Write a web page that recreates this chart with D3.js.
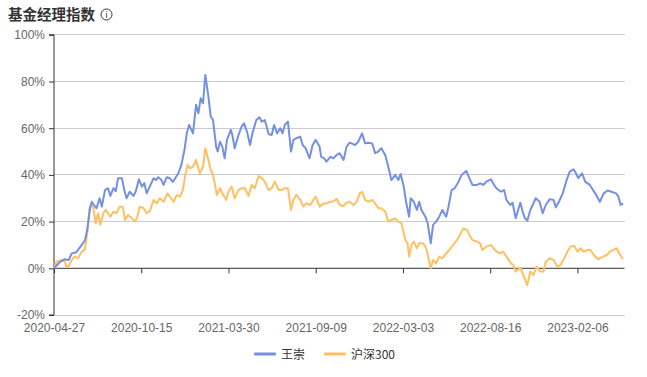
<!DOCTYPE html>
<html><head><meta charset="utf-8">
<script src="https://cdn.jsdelivr.net/npm/d3@7"></script>
<style>
html,body{margin:0;padding:0;background:#fff;}
svg{display:block;font-family:"Noto Sans CJK SC","Noto Sans",sans-serif;}
</style></head>
<body><svg id="c" width="647" height="377"></svg>
<script>
const title = "基金经理指数";
const seriesNames = ["王崇", "沪深300"];
const seriesColors = ["#7390e3", "#ffc063"];
const yTicks = [-20, 0, 20, 40, 60, 80, 100];
const xTickLabels = ["2020-04-27","2020-10-15","2021-03-30","2021-09-09","2022-03-03","2022-08-16","2023-02-06"];
const xTickDays = [0, 113, 226, 339, 452, 565, 678];
const lastDay = 737;

// 王崇 (trading-day index, % return)
const wangDays = [0,8,14,19,23,29,36,40,43,47,49,52,55,59,62,66,70,73,77,80,83,88,91,94,98,103,106,110,114,117,120,124,129,132,135,139,142,146,150,154,157,161,165,169,172,175,180,184,187,190,193,196,200,203,206,210,212,215,218,221,224,229,231,234,239,243,246,250,254,257,262,266,269,273,278,282,285,289,293,296,299,303,307,310,314,319,322,326,331,335,339,344,346,350,353,358,362,366,370,375,379,383,390,394,399,403,407,412,416,420,424,429,433,437,442,446,449,453,456,460,462,466,470,473,476,481,484,488,491,495,499,503,508,511,515,519,524,528,534,538,542,548,552,556,560,566,570,573,579,583,586,591,594,598,604,607,610,613,617,620,624,629,633,637,642,647,650,654,659,664,668,673,676,679,684,688,694,701,707,712,717,722,728,731,734,737];
const wangVals = [0,2.8,3.9,3.5,6.4,6.9,10,12,16.4,26.4,28.5,27,25.7,30,26.4,33.5,34.3,31,34.3,33,38.6,38.6,33.5,30,32.8,31,33,38.1,35,36.5,32.1,35,38.6,37.8,39,37.9,35.7,39,38.6,37,38.6,40.7,44.3,50.7,57.8,61.4,57.8,70,66.4,72.8,70.7,82.8,73.5,65,63.5,52.1,50,54.2,52.1,47.1,55,59.3,57.1,51.4,57.1,60.7,62.1,58.5,52.8,57.8,63.5,64.7,62.8,63.5,57.5,57.1,61.4,57.8,60,57.8,61.4,62.8,50,55,55.7,56.4,52.8,51.4,47.1,52.8,55,52.1,47.8,47.1,45.7,47.8,47.1,48.5,49.3,46.4,52.1,53.8,52.8,54.2,57.8,53.5,53.8,53.5,49.3,50,51.4,48.5,43.5,37.8,40,37.8,40.4,35,28.5,22.1,30,28.5,25,28.5,25,22.1,19.3,10.7,18.6,20,22.1,25,22.1,26.4,33.5,34.3,37.1,40,41.7,38.6,35.7,35.7,36.4,35.7,37.1,38.1,35.7,34.3,32.8,33.5,29.3,27.1,28.1,21.4,28.1,24.3,21.4,20.4,25,27.1,30,28.5,23.6,27.1,29.6,29.3,26.1,28.5,32.1,37.8,41.4,42.4,40.7,38.6,40.7,37.1,35.7,32.1,28.5,32.1,33.3,32.8,32.1,30.7,27.1,27.8];

// 沪深300 (trading-day index, % return)
const hs300Days = [0,3,10,14,16,19,23,27,31,36,40,43,46,49,51,54,57,60,64,67,70,73,77,81,85,89,92,96,101,105,108,111,116,120,124,129,133,137,142,147,150,155,159,163,167,170,173,176,180,184,187,189,193,196,200,203,206,211,215,218,223,226,230,234,239,243,247,252,256,260,265,269,273,278,282,286,291,295,299,303,307,310,314,319,323,327,332,336,339,344,349,353,358,362,366,370,375,379,383,388,392,396,399,403,407,412,416,420,424,429,433,437,442,446,450,455,458,460,463,466,470,473,478,482,485,488,491,495,499,503,508,512,517,522,526,530,535,538,542,548,552,555,560,566,571,577,582,586,592,595,598,604,608,613,617,621,625,630,634,637,642,647,652,656,661,665,669,674,678,682,686,691,695,699,705,711,716,720,724,729,732,737];
const hs300Vals = [0,2.8,3.6,2.8,0.7,1.0,3.6,5,4.3,7.1,8.1,15,25.7,27.1,25.7,19.3,23.6,18.6,23.6,25,23.6,22.1,24.3,23.6,26.4,26.4,20.7,22.8,21.4,20,22.1,26.4,25.7,23.6,24.3,29.3,27.8,30,28.5,32.1,30.7,28.5,31.4,30.7,33.5,40,44.3,42.8,43.5,46.4,42.8,40.7,43.5,51.4,46.4,42.1,40,31.4,34.3,32.1,29.3,32.8,35,30,33.5,34.3,34.3,31,35.7,34.3,39.5,38.6,37.1,33.5,34.3,37.1,33.5,33.5,34.3,34.3,25,29.3,31.4,29.3,26.4,27.8,27.1,29.3,30.7,26.4,27.8,27.8,28.5,28.7,29.8,27.1,26.7,28.1,28.5,27.1,28.5,32.1,32.8,29.3,28.5,29.3,27.8,25.7,25.7,24.3,20,20.7,21.4,20,19.3,12.1,10.7,5,10,11.4,8.6,10.7,10.7,8.6,4.3,0,3.6,2.1,5,4.3,6.4,7.8,10,12.1,14.3,17.1,16.4,14.3,12.1,11.4,10.7,7.8,9.3,10,7.8,6.4,7.1,5,2.1,1.4,-1.4,0.4,-2.9,-7.2,-1.4,-2.9,0.7,-1.4,-1.4,2.8,4.3,3.6,0.7,1.4,4.3,7.1,9.3,9.6,7.1,8.6,7.1,7.8,7.8,5.7,3.9,5,5.7,7.1,7.8,8.6,6.4,3.9];

(function () {
const svg = d3.select("#c");
const pL = 54, pR = 623, pT = 34.8, pB = 315;

const x = d3.scaleLinear().domain([0, lastDay]).range([pL, pR]);
const y = d3.scaleLinear().domain([-20, 100]).range([pB, pT]);

// title
svg.append("text").attr("x", 8).attr("y", 20)
  .attr("font-size", 14.5).attr("font-weight", "bold").attr("fill", "#333")
  .text(title);
const ic = svg.append("g").attr("transform", "translate(106.5,14.5)");
ic.append("circle").attr("r", 5.5).attr("fill", "none").attr("stroke", "#333").attr("stroke-width", 1);
ic.append("text").attr("y", 3.5).attr("text-anchor", "middle").attr("font-size", 9).attr("fill", "#333")
  .attr("font-family", "DejaVu Sans").text("i");

// grid
svg.append("g").selectAll("line").data(yTicks.filter(t => t !== 0)).join("line")
  .attr("x1", pL).attr("x2", pR + 1.5)
  .attr("y1", d => y(d)).attr("y2", d => y(d))
  .attr("stroke", "#cccccc").attr("stroke-width", 1).attr("shape-rendering", "crispEdges");

// y axis
const yAxis = d3.axisLeft(y).tickValues(yTicks).tickFormat(d => d + "%").tickSize(5).tickPadding(4);
const gy = svg.append("g").attr("transform", `translate(${pL},0)`).call(yAxis);
gy.select(".domain").attr("stroke", "#333").attr("d", `M-5,${y(100)}H0V${y(-20)}H-5`);
gy.selectAll(".tick line").attr("stroke", "#333");
gy.selectAll(".tick text").attr("fill", "#666").attr("font-size", 12)
  .attr("font-family", "'Liberation Sans','Noto Sans',sans-serif");

// x axis at zero
const xAxis = d3.axisBottom(x).tickValues(xTickDays).tickFormat((d, i) => xTickLabels[i]).tickSize(5).tickSizeOuter(0);
const gx = svg.append("g").attr("transform", `translate(0,${y(0)})`).call(xAxis);
gx.select(".domain").attr("stroke", "#333").attr("d", `M${pL},0H${pR + 1.5}`);
gx.selectAll(".tick line").attr("stroke", "#333");
gx.selectAll(".tick text").attr("fill", "#666").attr("font-size", 12)
  .attr("font-family", "'Liberation Sans','Noto Sans',sans-serif")
  .attr("y", y(-20) - y(0) + 8);

// lines
const series = [
  {days: wangDays, vals: wangVals},
  {days: hs300Days, vals: hs300Vals}
];
const line = d3.line().x(d => x(d[0])).y(d => y(d[1]));
[1, 0].forEach(i => {
  const s = series[i];
  const pts = s.days.map((d, k) => [d, s.vals[k]]);
  svg.append("path").datum(pts).attr("d", line)
    .attr("fill", "none").attr("stroke", seriesColors[i]).attr("stroke-width", 2)
    .attr("stroke-linejoin", "round");
});

// legend
const legendX = [254, 324];
seriesNames.forEach((n, i) => {
  const g = svg.append("g").attr("transform", `translate(${legendX[i]},354)`);
  g.append("rect").attr("x", 0).attr("y", -1.5).attr("width", 22).attr("height", 3).attr("rx", 1)
    .attr("fill", seriesColors[i]);
  g.append("text").attr("x", 27).attr("y", 4.5).attr("font-size", 12).attr("fill", "#333").text(n);
});
})();
</script></body></html>
